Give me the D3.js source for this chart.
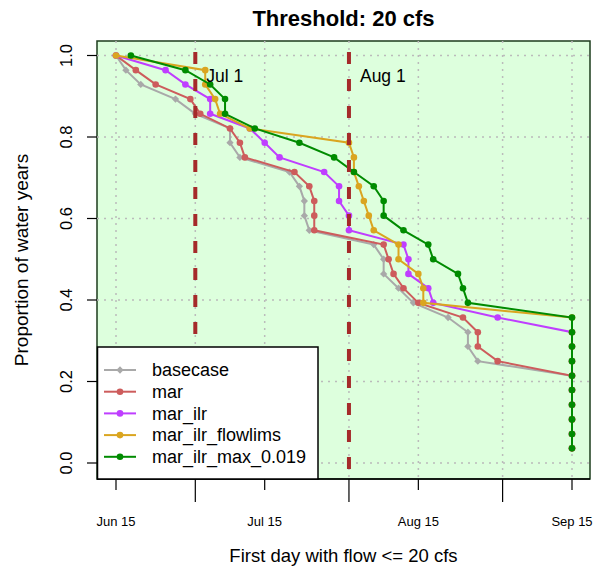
<!DOCTYPE html>
<html><head><meta charset="utf-8">
<script src="https://cdn.jsdelivr.net/npm/d3@7"></script>
<style>body{margin:0;background:#fff}svg{display:block}text{font-family:"Liberation Sans",Arial,Helvetica,sans-serif;fill:#000}</style>
</head><body><svg id="c" width="600" height="569"></svg>
<script>
// ---- data ----
const seriesNames = ["basecase", "mar", "mar_ilr", "mar_ilr_flowlims", "mar_ilr_max_0.019"];
const seriesColors = ["#A9A9A9", "#CD5C5C", "#BF3EFF", "#DAA520", "#008B00"];
// proportion of water years (28 years), one entry per point
const proportion = [1.000, 0.964, 0.929, 0.893, 0.857, 0.821, 0.786, 0.750, 0.714, 0.679,
  0.643, 0.607, 0.571, 0.536, 0.500, 0.464, 0.429, 0.393, 0.357, 0.321,
  0.286, 0.250, 0.214, 0.179, 0.143, 0.107, 0.071, 0.036];
// first day with flow <= 20 cfs, as days after Jun 15
const basecase = [0, 2, 5, 12, 16, 23, 23, 25, 35, 37, 38, 38, 39, 52, 54, 54, 57, 60, 67, 71, 71, 73, 92, 92, 92, 92, 92, 92];
const mar = [0, 4, 8, 15, 17, 23, 25, 26, 36, 39, 40, 40, 40, 54, 55, 56, 58, 61, 70, 73, 73, 77, 92, 92, 92, 92, 92, 92];
const mar_ilr = [0, 10, 14, 19, 19, 27, 30, 33, 42, 45, 45, 47, 47, 58, 59, 59, 63, 64, 77, 92, 92, 92, 92, 92, 92, 92, 92, 92];
const mar_ilr_flowlims = [0, 18, 18, 20, 21, 27, 47, 48, 48, 49, 50, 51, 52, 57, 57, 61, 62, 62, 92, 92, 92, 92, 92, 92, 92, 92, 92, 92];
const mar_ilr_max = [3, 14, 19, 22, 22, 28, 37, 44, 48, 52, 54, 54, 58, 63, 64, 69, 70, 71, 92, 92, 92, 92, 92, 92, 92, 92, 92, 92];
const seriesValues = [basecase, mar, mar_ilr, mar_ilr_flowlims, mar_ilr_max];
const labelTickDates = ["2001-06-15", "2001-07-15", "2001-08-15", "2001-09-15"];
const labelTickText = ["Jun 15", "Jul 15", "Aug 15", "Sep 15"];
const monthTickDates = ["2001-07-01", "2001-08-01", "2001-09-01"];
const refLineDates = ["2001-07-01", "2001-08-01"];
const refLineText = ["Jul 1", "Aug 1"];
const yTicks = [0, 0.2, 0.4, 0.6, 0.8, 1.0];

// ---- layout ----
const svg = d3.select("#c");
const L = 97, R = 590, T = 41, B = 479;
const parse = d3.utcParse("%Y-%m-%d");
const base = parse("2001-06-15");
const dayToDate = d => d3.utcDay.offset(base, d);
const x = d3.scaleUtc().domain([parse("2001-06-15"), parse("2001-09-15")]).range([116, 572]);
const y = d3.scaleLinear().domain([0, 1]).range([463, 55.5]);

// plot background
svg.append("rect").attr("x", L).attr("y", T).attr("width", R - L).attr("height", B - T)
  .attr("fill", "#DDFFDD").attr("stroke", "#1d3d1d").attr("stroke-width", 1.5);

// grid
const gridDates = labelTickDates.concat(monthTickDates).map(parse);
svg.append("g").selectAll("line").data(gridDates).join("line")
  .attr("x1", d => x(d)).attr("x2", d => x(d)).attr("y1", T).attr("y2", B)
  .attr("stroke", "#BBBBBB").attr("stroke-width", 1.5).attr("stroke-dasharray", "2,5");
svg.append("g").selectAll("line").data(yTicks).join("line")
  .attr("x1", L).attr("x2", R).attr("y1", d => y(d)).attr("y2", d => y(d))
  .attr("stroke", "#BBBBBB").attr("stroke-width", 1.5).attr("stroke-dasharray", "2,5");

// series
const line = d3.line().x(d => x(d[0])).y(d => y(d[1]));
seriesValues.forEach((vals, i) => {
  const pts = vals.map((v, j) => [dayToDate(v), proportion[j]]);
  const g = svg.append("g");
  g.append("path").datum(pts).attr("d", line).attr("fill", "none")
    .attr("stroke", seriesColors[i]).attr("stroke-width", 2);
  if (i === 0) {
    g.selectAll("path.m").data(pts).join("path").attr("class", "m")
      .attr("transform", d => `translate(${x(d[0])},${y(d[1])})`)
      .attr("d", d3.symbol(d3.symbolDiamond2, 34)()).attr("fill", seriesColors[i]);
  } else {
    g.selectAll("circle").data(pts).join("circle")
      .attr("cx", d => x(d[0])).attr("cy", d => y(d[1])).attr("r", 3.3)
      .attr("fill", seriesColors[i]);
  }
});

// reference lines
refLineDates.forEach((ds, i) => {
  const xv = x(parse(ds));
  svg.append("line").attr("x1", xv).attr("x2", xv).attr("y1", T).attr("y2", B)
    .attr("stroke", "#A52A2A").attr("stroke-width", 4).attr("stroke-dasharray", "12,15")
    .attr("stroke-dashoffset", 16);
  svg.append("text").attr("x", xv + 11).attr("y", 82).attr("font-size", 17.5).text(refLineText[i]);
});

// x axis
svg.append("line").attr("x1", L).attr("x2", R).attr("y1", B).attr("y2", B)
  .attr("stroke", "#000").attr("stroke-width", 1.5);
const xa = svg.append("g");
labelTickDates.forEach((ds, i) => {
  const xv = x(parse(ds));
  xa.append("line").attr("x1", xv).attr("x2", xv).attr("y1", B).attr("y2", B + 11)
    .attr("stroke", "#000").attr("stroke-width", 1.2);
  xa.append("text").attr("x", xv).attr("y", 526).attr("text-anchor", "middle")
    .attr("font-size", 13).text(labelTickText[i]);
});
monthTickDates.forEach(ds => {
  const xv = x(parse(ds));
  xa.append("line").attr("x1", xv).attr("x2", xv).attr("y1", B).attr("y2", B + 23)
    .attr("stroke", "#000").attr("stroke-width", 1.2);
});

// y axis
const ya = svg.append("g");
yTicks.forEach(v => {
  ya.append("line").attr("x1", L - 10).attr("x2", L).attr("y1", y(v)).attr("y2", y(v))
    .attr("stroke", "#000").attr("stroke-width", 1.2);
  ya.append("text").attr("transform", `translate(72,${y(v)}) rotate(-90)`)
    .attr("text-anchor", "middle").attr("font-size", 16.5).text(d3.format(".1f")(v));
});

// titles
svg.append("text").attr("x", (L + R) / 2).attr("y", 26).attr("text-anchor", "middle")
  .attr("font-size", 22).attr("font-weight", "bold").text("Threshold: 20 cfs");
svg.append("text").attr("x", (L + R) / 2).attr("y", 562).attr("text-anchor", "middle")
  .attr("font-size", 18.5).text("First day with flow <= 20 cfs");
svg.append("text").attr("transform", `translate(28,${(T + B) / 2}) rotate(-90)`)
  .attr("text-anchor", "middle").attr("font-size", 19).text("Proportion of water years");

// legend
const lg = svg.append("g");
lg.append("rect").attr("x", 97.5).attr("y", 347).attr("width", 220.5).attr("height", 132)
  .attr("fill", "#fff").attr("stroke", "#000").attr("stroke-width", 1.5);
seriesNames.forEach((nm, i) => {
  const ry = 370 + i * 21.7;
  lg.append("line").attr("x1", 104).attr("x2", 136).attr("y1", ry).attr("y2", ry)
    .attr("stroke", seriesColors[i]).attr("stroke-width", 2);
  if (i === 0) {
    lg.append("path").attr("transform", `translate(120,${ry})`)
      .attr("d", d3.symbol(d3.symbolDiamond2, 34)()).attr("fill", seriesColors[i]);
  } else {
    lg.append("circle").attr("cx", 120).attr("cy", ry).attr("r", 3.3).attr("fill", seriesColors[i]);
  }
  lg.append("text").attr("x", 152).attr("y", ry).attr("dy", "0.35em")
    .attr("font-size", 18).text(nm);
});
</script></body></html>
